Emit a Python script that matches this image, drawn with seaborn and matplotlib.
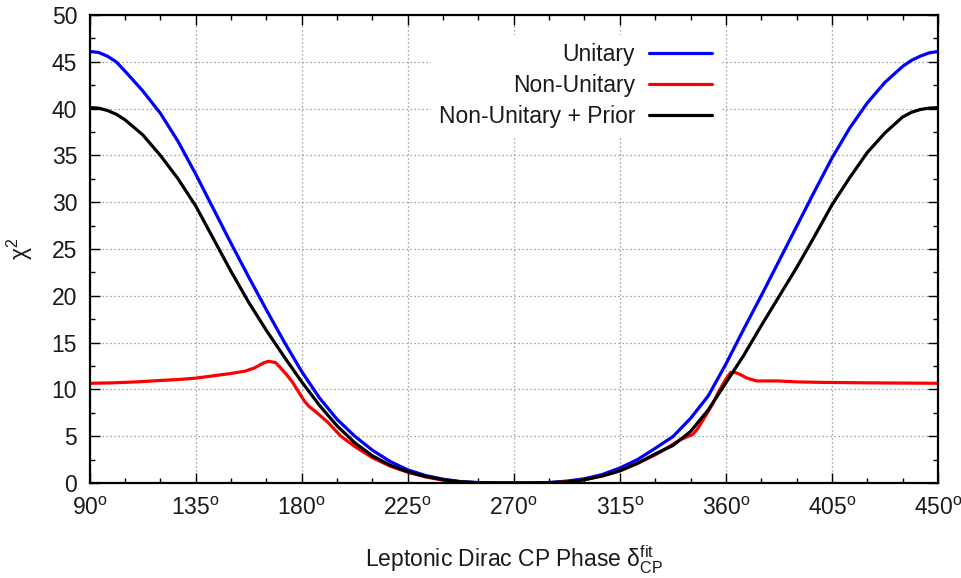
import matplotlib
matplotlib.use("Agg")
import matplotlib.pyplot as plt
import numpy as np
import pandas as pd
import seaborn as sns
from matplotlib.ticker import FixedLocator, MultipleLocator
from matplotlib.lines import Line2D

# ---------------- data ----------------
delta_grid = [90, 93.75, 97.5, 101.25, 105, 112.5, 120, 127.5, 135, 142.5, 150, 157.5, 165, 172.5,
              180, 187.5, 195, 202.5, 210, 217.5, 225, 232.5, 240, 247.5, 255, 262.5,
              270, 277.5, 285, 292.5, 300, 307.5, 315, 322.5, 330, 337.5, 345, 352.5,
              360, 367.5, 375, 382.5, 390, 397.5, 405, 412.5, 420, 427.5, 435, 438.75,
              442.5, 446.25, 450]

chi2_unitary = [46.1, 46.0, 45.6, 45.0, 44.0, 41.9, 39.5, 36.5, 33.0, 29.3, 25.6, 22.0, 18.5, 15.1,
                11.9, 9.1, 6.8, 5.0, 3.5, 2.3, 1.4, 0.8, 0.4, 0.15, 0.04, 0.01,
                0.0, 0.01, 0.05, 0.2, 0.45, 0.9, 1.6, 2.5, 3.7, 4.95, 6.9, 9.3,
                12.7, 16.4, 20.0, 23.7, 27.4, 31.1, 34.7, 37.9, 40.6, 42.8, 44.5, 45.15,
                45.6, 45.95, 46.1]

chi2_prior = [40.1, 40.05, 39.8, 39.4, 38.8, 37.2, 35.0, 32.5, 29.6, 26.1, 22.6, 19.3, 16.3, 13.5,
              10.8, 8.3, 6.1, 4.3, 2.9, 1.9, 1.2, 0.7, 0.35, 0.12, 0.03, 0.005,
              0.0, 0.005, 0.03, 0.12, 0.35, 0.75, 1.3, 2.1, 3.1, 4.0, 5.5, 7.8,
              10.7, 13.6, 16.8, 19.9, 23.0, 26.3, 29.7, 32.6, 35.3, 37.4, 39.1, 39.6,
              39.9, 40.05, 40.1]

delta_red = [90, 100, 110, 120, 127.5, 135, 142.5, 150, 156, 160, 164, 166, 169, 171,
             173.5, 176, 178.5, 181, 183, 186, 191, 196.6, 202.5, 210, 217.5, 225,
             232.5, 240, 247.5, 255, 262.5, 270, 277.5, 285, 292.5, 300, 307.5, 315,
             322.5, 330, 336, 340.5, 346, 348, 351, 354.5, 357, 360, 362, 364, 366,
             369, 373, 378, 382, 390, 400, 420, 450]
chi2_nonunitary = [10.65, 10.7, 10.8, 10.95, 11.05, 11.2, 11.45, 11.7, 11.95, 12.3, 12.85,
                   13.0, 12.85, 12.3, 11.6, 10.8, 9.8, 8.8, 8.2, 7.6, 6.5, 5.0, 3.9, 2.7,
                   1.8, 1.15, 0.65, 0.3, 0.1, 0.02, 0.0, 0.0, 0.0, 0.03, 0.12, 0.35, 0.75,
                   1.3, 2.1, 3.0, 3.9, 4.6, 5.2, 5.8, 7.0, 8.5, 9.8, 11.1, 11.8, 11.8, 11.6,
                   11.2, 10.9, 10.9, 10.9, 10.8, 10.75, 10.7, 10.65]

series_names = ["Unitary", "Non-Unitary", "Non-Unitary + Prior"]
series_colors = ["#0000ff", "#ff0000", "#000000"]

xtick_values = [90, 135, 180, 225, 270, 315, 360, 405, 450]
xtick_labels = [f"{v}$^{{\\mathrm{{o}}}}$" for v in xtick_values]
ytick_values = [0, 5, 10, 15, 20, 25, 30, 35, 40, 45, 50]

df = pd.concat([
    pd.DataFrame({"delta": delta_grid, "chi2": chi2_unitary, "model": series_names[0]}),
    pd.DataFrame({"delta": delta_red, "chi2": chi2_nonunitary, "model": series_names[1]}),
    pd.DataFrame({"delta": delta_grid, "chi2": chi2_prior, "model": series_names[2]}),
], ignore_index=True)

# ---------------- style ----------------
sns.set_theme(style="white")
plt.rcParams["font.family"] = ["Liberation Sans", "DejaVu Sans"]
plt.rcParams["mathtext.fontset"] = "custom"
plt.rcParams["mathtext.rm"] = "Liberation Sans"
plt.rcParams["mathtext.it"] = "Liberation Sans:italic"
plt.rcParams["mathtext.bf"] = "Liberation Sans:bold"

FS = 16.5
TXT = "#1a1a1a"

fig = plt.figure(figsize=(9.62, 5.78), dpi=100)
ax = fig.add_axes([0.0932, 0.1644, 0.8818, 0.8097])

sns.lineplot(data=df, x="delta", y="chi2", hue="model", hue_order=series_names,
             palette=dict(zip(series_names, series_colors)), estimator=None,
             sort=False, linewidth=2.3, legend=False, ax=ax)
for ln in ax.get_lines():
    ln.set_solid_joinstyle("round")
    ln.set_solid_capstyle("round")

ax.set_xlim(90, 450)
ax.set_ylim(0, 50)
ax.xaxis.set_major_locator(FixedLocator(xtick_values))
ax.set_xticklabels(xtick_labels)
ax.xaxis.set_minor_locator(MultipleLocator(15))
ax.yaxis.set_major_locator(FixedLocator(ytick_values))
ax.yaxis.set_minor_locator(MultipleLocator(2.5))

ax.tick_params(which="both", direction="in", top=True, right=True, bottom=True, left=True,
               colors="black", labelcolor=TXT, labelsize=FS)
ax.tick_params(which="major", length=7, width=1.0)
ax.tick_params(which="minor", length=3.5, width=1.0)
ax.tick_params(axis="x", which="major", pad=10)
ax.tick_params(axis="y", which="major", pad=9)

for sp in ax.spines.values():
    sp.set_visible(True)
    sp.set_color("black")
    sp.set_linewidth(1.6)

ax.set_axisbelow(True)
ax.grid(True, which="major", color="#8a8a8a", linestyle=(0, (1, 2.2)), linewidth=0.9)

ax.set_xlabel("Leptonic Dirac CP Phase δ$_{\\mathrm{CP}}^{\\mathrm{fit}}$", fontsize=FS,
              labelpad=17, color=TXT)
ax.set_ylabel("χ$^{2}$", fontsize=FS, labelpad=12, color=TXT)

handles = [Line2D([0], [0], color=c, lw=2.3) for c in series_colors]
leg = ax.legend(handles, series_names, loc="upper right",
                bbox_to_anchor=(720 / 962, 1 - 35 / 578), bbox_transform=fig.transFigure,
                markerfirst=False, frameon=True, facecolor="white", edgecolor="none",
                framealpha=1, fancybox=False, fontsize=FS, handlelength=2.75,
                handletextpad=0.6, labelspacing=0.34, borderpad=0.35, borderaxespad=0,
                labelcolor=TXT)

fig.savefig("out.png", dpi=100)
